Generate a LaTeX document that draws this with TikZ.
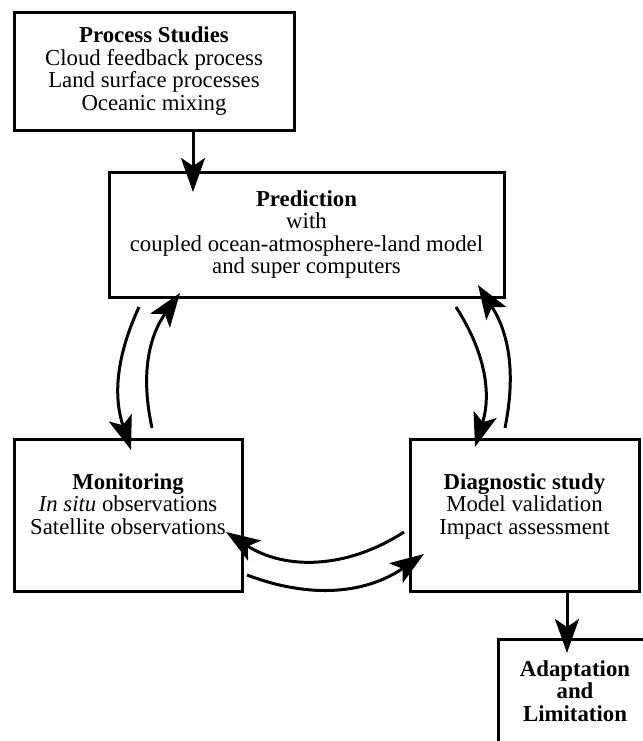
\documentclass[tikz,border=0pt]{standalone}
\usepackage{fontspec}
\setmainfont{Liberation Serif}
\usetikzlibrary{arrows.meta, positioning}

\begin{document}
\begin{tikzpicture}[
  x=0.5pt, y=0.5pt,
  box/.style={rectangle, draw=black, line width=1.5pt, fill=white, align=center, inner sep=0pt, outer sep=0pt, font=\fontsize{11.4pt}{11.3pt}\selectfont},
  arrow/.style={line width=1.5pt, -{Stealth[length=17pt, width=12pt, inset=4pt]}}
]

\useasboundingbox (0,0) rectangle (643,-741);

\node[box, minimum width=140pt, minimum height=59pt] (proc) at (154,-71) {\textbf{Process Studies}\\Cloud feedback process\\Land surface processes\\Oceanic mixing};
\node[box, minimum width=197.5pt, minimum height=62.5pt, below=21pt of proc, xshift=76.25pt] (pred) {\textbf{Prediction}\\with\\coupled ocean-atmosphere-land model\\and super computers};
\node[box, minimum width=114pt, minimum height=76pt, below=71pt of pred, xshift=-89.25pt] (mon) {\textbf{Monitoring}\\\textit{In situ} observations\\Satellite observations\\\mbox{}};
\node[box, minimum width=114.5pt, minimum height=76pt, right=84pt of mon] (diag) {\textbf{Diagnostic study}\\Model validation\\Impact assessment\\\mbox{}};
\node[box, minimum width=77pt, minimum height=52pt, below=24pt of diag, xshift=25.25pt] (adapt) {\textbf{Adaptation}\\\textbf{and}\\\textbf{Limitation}};

\draw[arrow] ([shift={(39,0)}]proc.south) -- ([shift={(-113.5,-20)}]pred.north);
\draw[arrow] ([shift={(42.5,0)}]diag.south) -- ([shift={(-8,-14)}]adapt.north);

\draw[arrow] ([shift={(30,-10)}]pred.south west) to[bend right=21.5] ([shift={(117,-11)}]mon.north west);
\draw[arrow] ([shift={(138,11)}]mon.north west) to[bend left=24] ([shift={(71,4)}]pred.south west);
\draw[arrow] ([shift={(-48,-10)}]pred.south east) to[bend left=25] ([shift={(65,-8)}]diag.north west);
\draw[arrow] ([shift={(95,11)}]diag.north west) to[bend right=22] ([shift={(-26,12)}]pred.south east);
\draw[arrow] ([shift={(-6,-17)}]diag.west) to[bend left=33] ([shift={(-16,-17)}]mon.east);
\draw[arrow] ([shift={(5,-60)}]mon.east) to[bend right=27.5] ([shift={(14,-39)}]diag.west);

\end{tikzpicture}
\end{document}
